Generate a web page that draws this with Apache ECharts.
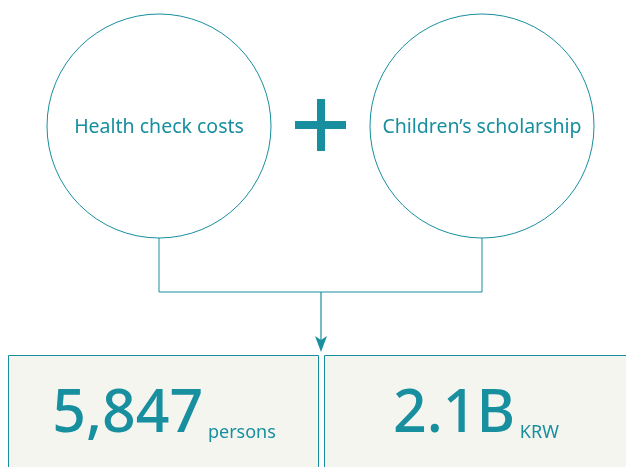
<!DOCTYPE html>
<html>
<head>
<meta charset="utf-8">
<script src="https://cdn.jsdelivr.net/npm/echarts@6/dist/echarts.min.js"></script>
<style>
  html, body { margin: 0; padding: 0; background: #fff; }
  #main { width: 626px; height: 467px; }
</style>
</head>
<body>
<div id="main"></div>
<script>
// 圆圈里的两项
const items = ['Health check costs', 'Children\u2019s scholarship'];
// 下方两个结果
const figures = ['5,847', '2.1B'];
const units = ['persons', 'KRW'];

const teal = '#178f9f';
const chart = echarts.init(document.getElementById('main'));

const circleX = [159, 482];
const cy = 126, r = 112;
const boxes = [[8, 310, 1], [324, 310, -3]]; // x, width, text offset

let elements = [];
items.forEach((name, i) => {
    elements.push({
        type: 'circle',
        shape: { cx: circleX[i], cy: cy, r: r },
        style: { fill: '#fff', stroke: teal, lineWidth: 1 }
    });
    elements.push({
        type: 'text',
        x: circleX[i], y: cy + 1,
        style: {
            text: name, fill: teal, font: '19.5px "Noto Sans"',
            align: 'center', verticalAlign: 'middle'
        }
    });
});

// 加号
elements.push({ type: 'rect', shape: { x: 295, y: 121, width: 51, height: 8 }, style: { fill: teal } });
elements.push({ type: 'rect', shape: { x: 317, y: 99, width: 8, height: 52 }, style: { fill: teal } });

// 连接线
elements.push({
    type: 'polyline',
    shape: { points: [[circleX[0], cy + r], [circleX[0], 292], [circleX[1], 292], [circleX[1], cy + r]] },
    style: { stroke: teal, lineWidth: 1, fill: null }
});
elements.push({
    type: 'line',
    shape: { x1: 321, y1: 292, x2: 321, y2: 345 },
    style: { stroke: teal, lineWidth: 1.2 }
});
elements.push({
    type: 'polygon',
    shape: { points: [[315, 336], [321, 340], [327, 336], [321, 352]] },
    style: { fill: teal }
});

// 结果框
figures.forEach((val, i) => {
    const [bx, bw, off] = boxes[i];
    elements.push({
        type: 'rect',
        shape: { x: bx + 0.5, y: 355.5, width: bw, height: 130 },
        style: { fill: '#f5f5f0', stroke: teal, lineWidth: 1 }
    });
    elements.push({
        type: 'text',
        x: bx + bw / 2 + off, y: 445,
        style: {
            text: '{a|' + val + '}{b| ' + units[i] + '}',
            align: 'center', verticalAlign: 'bottom',
            rich: {
                a: { fontSize: 59, fontFamily: 'Noto Sans', fill: teal, fontWeight: 500, verticalAlign: 'bottom', lineHeight: 60 },
                b: { fontSize: 18, fontFamily: 'Noto Sans', fill: teal, verticalAlign: 'bottom', lineHeight: 60, padding: [0, 0, 3, 0] }
            }
        }
    });
});

chart.setOption({
    backgroundColor: '#fff',
    graphic: { elements: elements }
});

window.addEventListener('resize', chart.resize);
</script>
</body>
</html>
